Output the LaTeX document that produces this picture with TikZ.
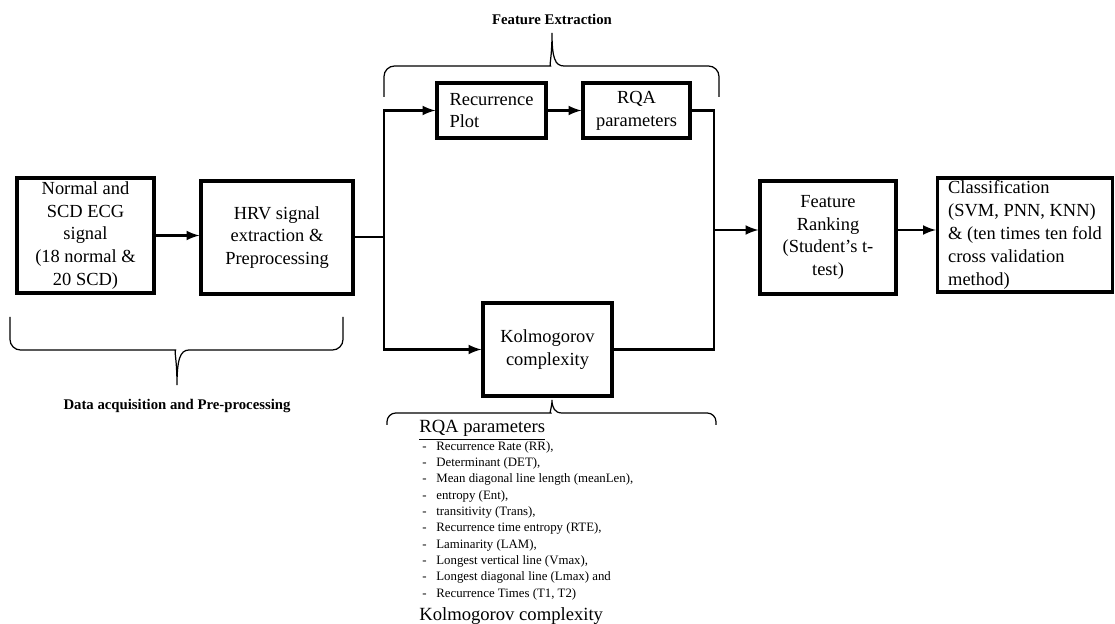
\documentclass[tikz,border=0pt]{standalone}
\usepackage{fontspec}
\setmainfont{Liberation Serif}
\usetikzlibrary{arrows}

\newcommand{\rqaitem}[1]{\makebox[0.28cm][l]{-}#1}

\begin{document}
\begin{tikzpicture}[x=0.02cm,y=-0.02cm,>=latex,
		box/.style = {draw,line width=1.8pt,align=center,inner sep=0pt,font=\fontsize{10.5}{13}\selectfont},
		link/.style = {line width=1.5pt},
		brace/.style = {line width=0.7pt},
		note/.style = {font=\fontsize{8.4}{10}\selectfont\bfseries}]
	\useasboundingbox (0,0) rectangle (1115,624);

	\node [box, minimum width=2.74cm, minimum height=2.30cm] (ecg) at (85.5,235.5) {Normal and\\SCD ECG\\signal\\(18 normal \&\\20 SCD)};
	\node [box, minimum width=3.04cm, minimum height=2.26cm] (hrv) at (277,237.5) {HRV signal\\extraction \&\\Preprocessing};
	\node [box, align=left, minimum width=2.18cm, minimum height=1.10cm] (rp) at (491.5,110.5) {Recurrence\\Plot};
	\node [box, minimum width=2.14cm, minimum height=1.10cm] (rqa) at (636.5,110.5) {RQA\\parameters};
	\node [box, minimum width=2.58cm, minimum height=1.86cm] (kc) at (547.5,349.5) {Kolmogorov\\complexity};
	\node [box, minimum width=2.72cm, minimum height=2.26cm] (rank) at (828,237.5) {Feature\\Ranking\\(Student's t-\\test)};
	\node [box, align=left, minimum width=3.50cm, minimum height=2.28cm] (cls) at (1025,235) {Classification\\(SVM, PNN, KNN)\\\& (ten times ten fold\\cross validation\\method)};

	\coordinate (split) at (384,237);
	\coordinate (join) at (714,230);

	\draw [link,->] (ecg.east) -- (ecg.east -| hrv.west);
	\draw [link] (hrv.east |- split) -- (split);
	\draw [link,->] (split) |- (rp.west);
	\draw [link,->] (split) |- (kc.west);
	\draw [link,->] (rp) -- (rqa);
	\draw [link] (rqa.east) -| (join);
	\draw [link] (kc.east) -| (join);
	\draw [link,->] (join) -- (join -| rank.west);
	\draw [link,->] (rank.east |- join) -- (join -| cls.west);

	\draw [brace] (384,97) [rounded corners=6pt] -- (384,66) -- (540,66) [sharp corners] .. controls (549,66) and (552,58) .. (552,33) .. controls (552,58) and (555,66) .. (564,66) [rounded corners=6pt] -- (719,66) -- (719,97);
	\draw [brace] (10,317) [rounded corners=6pt] -- (10,350) -- (165,350) [sharp corners] .. controls (174,350) and (177,360) .. (177,385) .. controls (177,360) and (180,350) .. (189,350) [rounded corners=6pt] -- (343,350) -- (343,317);
	\draw [brace] (387,425) [rounded corners=5pt] -- (387,413) -- (542,413) [sharp corners] .. controls (549,413) and (552,408) .. (552,400) .. controls (552,408) and (555,413) .. (562,413) [rounded corners=5pt] -- (716,413) -- (716,425);

	\node [note] (fe) at (552,19) {Feature Extraction};
	\node [note] (dap) at (177,406) {Data acquisition and Pre-processing};

	\node [anchor=base west, inner sep=0pt, font=\fontsize{10.6}{13}\selectfont] (rqahead) at (419,433) {\underline{RQA parameters}};
	\node [anchor=north west, align=left, inner sep=0pt, font=\fontsize{7.3}{9.3}\selectfont] (rqalist) at (422,441) {\rqaitem{Recurrence Rate (RR),}\\
		\rqaitem{Determinant (DET),}\\
		\rqaitem{Mean diagonal line length (meanLen),}\\
		\rqaitem{entropy (Ent),}\\
		\rqaitem{transitivity (Trans),}\\
		\rqaitem{Recurrence time entropy (RTE),}\\
		\rqaitem{Laminarity (LAM),}\\
		\rqaitem{Longest vertical line (Vmax),}\\
		\rqaitem{Longest diagonal line (Lmax) and}\\
		\rqaitem{Recurrence Times (T1, T2)}};
	\node [anchor=base west, inner sep=0pt, font=\fontsize{10.6}{13}\selectfont] (kchead) at (419,620) {\underline{Kolmogorov complexity}};
\end{tikzpicture}
\end{document}
